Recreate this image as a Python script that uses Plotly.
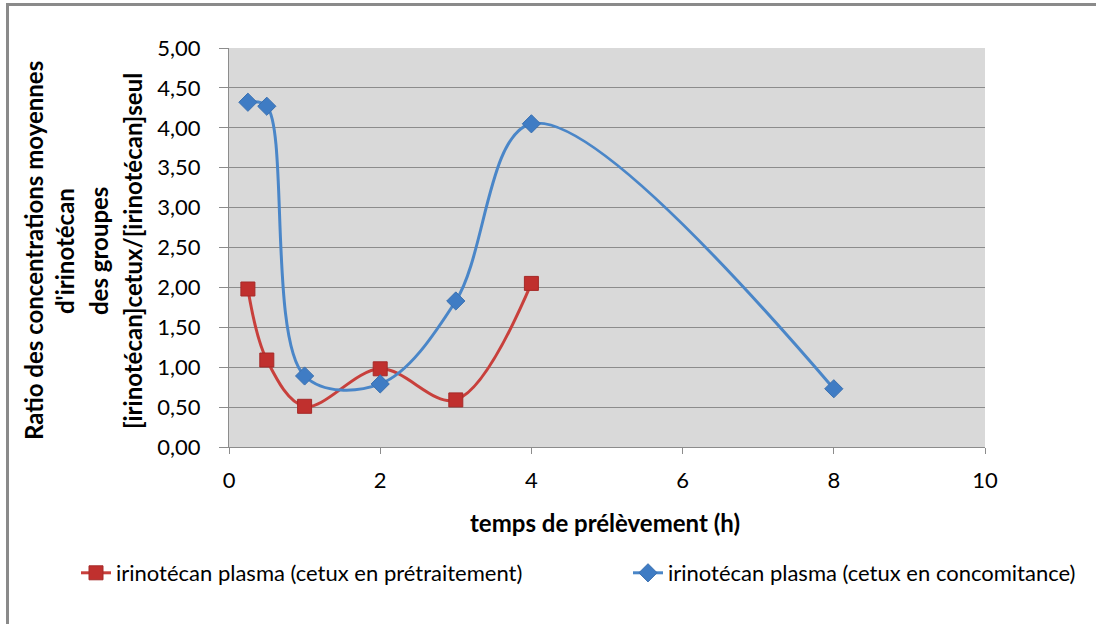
import plotly.graph_objects as go

time_red = [0.25, 0.5, 1, 2, 3, 4]
ratio_red = [1.98, 1.09, 0.51, 0.98, 0.59, 2.05]
time_blue = [0.25, 0.5, 1, 2, 3, 4, 8]
ratio_blue = [4.32, 4.27, 0.89, 0.79, 1.83, 4.05, 0.73]

name_red = "irinotécan plasma (cetux en prétraitement)"
name_blue = "irinotécan plasma (cetux en concomitance)"
ytitle_lines = ["Ratio des concentrations moyennes", "d'irinotécan", "des groupes",
                "[irinotécan]cetux/[irinotécan]seul"]
xtitle = "temps de prélèvement (h)"

W, H = 1096, 624
PL, PR, PT, PB = 229, 985, 48, 447  # plot area in window pixels
ML, MT = PL, PT
MR, MB = W - PR, H - PB
PW, PH = PR - PL, PB - PT


def px(x):
    return (x - PL) / PW


def py(y):
    return (PB - y) / PH


FONT = "Lato"
RED = "#C8403C"
BLUE = "#4A86C8"

fig = go.Figure()
fig.add_trace(go.Scatter(
    x=time_red, y=ratio_red, name=name_red, mode="lines+markers", legend="legend",
    line=dict(color=RED, width=3, shape="spline", smoothing=1),
    marker=dict(symbol="square", size=14, color="#C0302E", line=dict(color="#A52A28", width=1)),
))
fig.add_trace(go.Scatter(
    x=time_blue, y=ratio_blue, name=name_blue, mode="lines+markers", legend="legend2",
    line=dict(color=BLUE, width=3, shape="spline", smoothing=1),
    marker=dict(symbol="diamond", size=14, color="#3F7CC4", line=dict(color="#3A70B0", width=1)),
))

shapes = [
    dict(type="line", xref="paper", yref="paper", x0=px(7.5), x1=px(7.5), y0=py(3), y1=py(700),
         line=dict(color="#8A8A8A", width=3)),
    dict(type="line", xref="paper", yref="paper", x0=px(6), x1=px(1200), y0=py(4.5), y1=py(4.5),
         line=dict(color="#8A8A8A", width=3)),
]

annotations = []
for t, xc in zip(ytitle_lines, [33, 64, 98, 132]):
    annotations.append(dict(
        text="<b>%s</b>" % t, textangle=-90, xref="paper", yref="paper",
        x=px(xc), y=py(251), xanchor="center", yanchor="middle", showarrow=False,
        font=dict(family=FONT, size=24, color="#000000"),
    ))
annotations.append(dict(
    text="<b>%s</b>" % xtitle, xref="paper", yref="paper", x=px(605), y=py(522),
    xanchor="center", yanchor="middle", showarrow=False,
    font=dict(family=FONT, size=24, color="#000000"),
))

legend_common = dict(
    orientation="h", xref="paper", yref="paper", xanchor="left", yanchor="middle",
    font=dict(family=FONT, size=22, color="#000000"), bgcolor="rgba(0,0,0,0)",
)

fig.update_layout(
    width=W, height=H,
    margin=dict(l=ML, r=MR, t=MT, b=MB),
    paper_bgcolor="white", plot_bgcolor="#D9D9D9",
    separators=", ",
    font=dict(family=FONT, size=19, color="#000000"),
    showlegend=True,
    legend=dict(x=px(76), y=py(573), **legend_common),
    legend2=dict(x=px(628), y=py(573), **legend_common),
    xaxis=dict(range=[0, 10], dtick=2, tick0=0, showgrid=False, zeroline=False,
               showline=True, linecolor="#8C8C8C", linewidth=1,
               ticks="outside", ticklen=6, tickcolor="#8C8C8C", ticklabelstandoff=8,
               tickfont=dict(family=FONT, size=22, color="#000000")),
    yaxis=dict(range=[0, 5], dtick=0.5, tick0=0, tickformat=".2f",
               showgrid=True, gridcolor="#8C8C8C", gridwidth=1, zeroline=False,
               showline=True, linecolor="#8C8C8C", linewidth=1,
               ticks="outside", ticklen=9, tickcolor="#8C8C8C", ticklabelstandoff=14,
               tickfont=dict(family=FONT, size=22, color="#000000")),
    shapes=shapes, annotations=annotations,
)

fig.write_html(
    "out.html",
    config={"displayModeBar": False},
    post_script="document.body.style.margin='0px';document.body.style.overflow='hidden';",
)
